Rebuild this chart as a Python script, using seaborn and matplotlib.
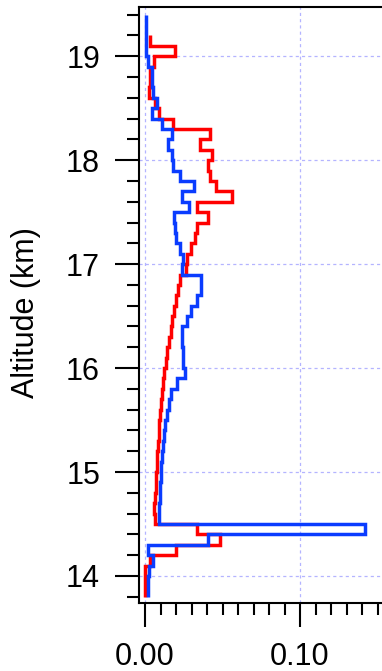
import numpy as np
import matplotlib
matplotlib.use("Agg")
import matplotlib.pyplot as plt
from matplotlib.ticker import MultipleLocator, FormatStrFormatter
import seaborn as sns

# Altitude bins (km): top edge of each 0.1 km layer, from 19.4 down to 13.9
bin_top_km = np.round(np.arange(19.4, 13.85, -0.1), 1)
bin_width_km = 0.1

# Red profile (no data above 19.2 km)
red_values = [
    np.nan, np.nan, 0.0032, 0.0194, 0.0060, 0.0035, 0.0030, 0.0026, 0.0065, 0.0090,
    0.0180, 0.0420, 0.0355, 0.0435, 0.0404, 0.0420, 0.0460, 0.0560, 0.0335, 0.0404,
    0.0335, 0.0320, 0.0298, 0.0268, 0.0262, 0.0226, 0.0215, 0.0200, 0.0187, 0.0176,
    0.0166, 0.0155, 0.0144, 0.0136, 0.0125, 0.0118, 0.0108, 0.0101, 0.0097, 0.0092,
    0.0088, 0.0084, 0.0080, 0.0075, 0.0071, 0.0068, 0.0064, 0.0060, 0.0065, 0.0333,
    0.0484, 0.0200, 0.0030, 0.0000, 0.0000, 0.0000,
]

# Blue profile
blue_values = [
    0.0005, 0.0005, 0.0005, 0.0005, 0.0021, 0.0043, 0.0045, 0.0050, 0.0075, 0.0043,
    0.0108, 0.0172, 0.0150, 0.0174, 0.0178, 0.0224, 0.0316, 0.0237, 0.0284, 0.0189,
    0.0195, 0.0200, 0.0228, 0.0248, 0.0238, 0.0360, 0.0360, 0.0338, 0.0295, 0.0273,
    0.0241, 0.0241, 0.0243, 0.0245, 0.0258, 0.0204, 0.0168, 0.0157, 0.0140, 0.0130,
    0.0123, 0.0117, 0.0112, 0.0105, 0.0101, 0.0098, 0.0095, 0.0093, 0.0091, 0.1420,
    0.0409, 0.0022, 0.0050, 0.0028, 0.0022, 0.0022,
]

x_major_ticks = [0.0, 0.1]
y_major_ticks = [14, 15, 16, 17, 18, 19]


def step_profile(values, tops, width):
    """Vertical step outline: each layer drawn as a segment at its value."""
    v = np.asarray(values, dtype=float)
    keep = ~np.isnan(v)
    v, t = v[keep], np.asarray(tops)[keep]
    xs = np.repeat(v, 2)
    ys = np.column_stack([t, t - width]).ravel()
    return xs, ys


sns.set_style("ticks")
plt.rcParams["font.family"] = ["Liberation Sans", "DejaVu Sans"]
plt.rcParams.update({
    "text.color": "black",
    "axes.labelcolor": "black",
    "xtick.color": "black",
    "ytick.color": "black",
    "axes.edgecolor": "black",
})

fig = plt.figure(figsize=(3.82, 6.71), dpi=100)
ax = fig.add_axes([0.3647, 0.1013, 0.6439, 0.8878])

line_kw = dict(sort=False, estimator=None, orient="y", linewidth=2.5, ax=ax)
rx, ry = step_profile(red_values, bin_top_km, bin_width_km)
sns.lineplot(x=rx, y=ry, color="#ff0000", zorder=3, **line_kw)
bx, by = step_profile(blue_values, bin_top_km, bin_width_km)
sns.lineplot(x=bx, y=by, color="#0a3cff", zorder=4, **line_kw)
for ln in ax.lines:
    ln.set_solid_joinstyle("miter")
    ln.set_solid_capstyle("butt")

ax.set_xlim(-0.0037, 0.155)
ax.set_ylim(13.74, 19.47)

ax.set_xticks(x_major_ticks)
ax.set_yticks(y_major_ticks)
ax.xaxis.set_major_formatter(FormatStrFormatter("%.2f"))
ax.xaxis.set_minor_locator(MultipleLocator(0.01))
ax.yaxis.set_minor_locator(MultipleLocator(0.2))

ax.tick_params(axis="both", which="major", direction="out", length=17.3,
               width=1.5, color="black", labelcolor="black", labelsize=22, pad=11)
ax.tick_params(axis="both", which="minor", direction="out", length=8.6,
               width=1.5, color="black")
ax.tick_params(top=False, right=False, which="both")

for side in ("left", "bottom", "top", "right"):
    ax.spines[side].set_linewidth(1.5)
    ax.spines[side].set_color("black")

ax.grid(True, which="major", color="#b4b4ff", linestyle=(0, (2.5, 2.5)), linewidth=0.9)
ax.set_axisbelow(True)

ax.set_xlabel("")
ax.set_ylabel("Altitude (km)", fontsize=22, color="black")
ax.yaxis.set_label_coords(-0.40, 0.487)

fig.savefig("out.png", dpi=100)
